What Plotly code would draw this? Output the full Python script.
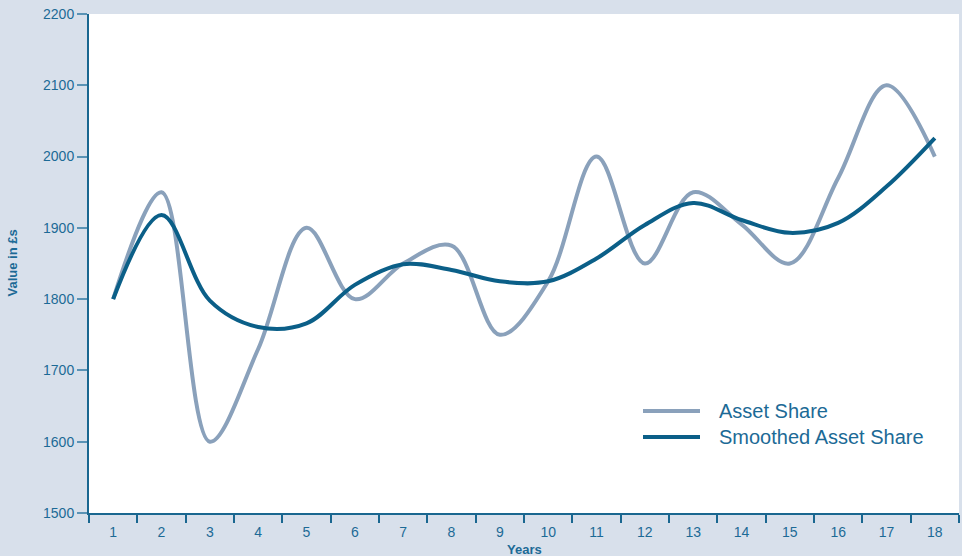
import plotly.graph_objects as go

years = [str(i) for i in range(1, 19)]
asset_share = [1800, 1950, 1600, 1730, 1900, 1800, 1850, 1875, 1750, 1825,
               2000, 1850, 1950, 1905, 1850, 1970, 2100, 2000]
smoothed_asset_share = [1800, 1918, 1798, 1761, 1766, 1820, 1849, 1841, 1825, 1825,
                        1857, 1904, 1935, 1911, 1893, 1907, 1958, 2026]
y_ticks = [1500, 1600, 1700, 1800, 1900, 2000, 2100, 2200]

GREY = "#8aa1bb"
DARK = "#0b5f88"
TXT = "#1c6a96"
BG = "#d8e0eb"
FONT = "Liberation Sans Narrow, Liberation Sans, Arial, sans-serif"

fig = go.Figure()
fig.add_trace(go.Scatter(x=years, y=asset_share, mode="lines", name="Asset Share",
                         line=dict(color=GREY, width=4, shape="spline", smoothing=1.0)))
fig.add_trace(go.Scatter(x=years, y=smoothed_asset_share, mode="lines", name="Smoothed Asset Share",
                         line=dict(color=DARK, width=4, shape="spline", smoothing=1.0)))

fig.update_layout(
    width=962, height=556,
    margin=dict(l=89, r=3, t=14, b=43),
    paper_bgcolor=BG, plot_bgcolor="white",
    showlegend=False,
    font=dict(family=FONT, color=TXT, size=13),
    xaxis=dict(type="category", range=[-0.5, 17.5], tickson="boundaries",
               ticks="outside", ticklen=8, tickwidth=1.5, tickcolor="#1a6790",
               showline=True, linecolor="#1a6790", linewidth=2,
               showgrid=False, zeroline=False, fixedrange=True,
               ticklabelstandoff=5,
               tickfont=dict(size=14, family=FONT, color=TXT)),
    yaxis=dict(range=[1500, 2200], tickvals=y_ticks,
               ticks="outside", ticklen=10, tickwidth=1.5, tickcolor="#5a93b5",
               showline=True, linecolor="#1a6790", linewidth=2,
               showgrid=False, zeroline=False,
               tickfont=dict(size=14, family=FONT, color=TXT)),
)

# axis titles
fig.add_annotation(text="<b>Years</b>", xref="paper", yref="paper", x=0.5, y=-0.073,
                   xanchor="center", yanchor="middle", showarrow=False,
                   font=dict(size=13, family=FONT, color=TXT))
fig.add_annotation(text="<b>Value in £s</b>", xref="paper", yref="paper", x=-0.0885, y=0.5,
                   xanchor="center", yanchor="middle", showarrow=False, textangle=-90,
                   font=dict(size=13, family=FONT, color=TXT))

# manual legend
leg = [("Asset Share", GREY, 411), ("Smoothed Asset Share", DARK, 437)]
for name, col, ypx in leg:
    yp = 1 - (ypx - 14) / (513 - 14)
    x0 = (643 - 89) / (959 - 89)
    x1 = (700 - 89) / (959 - 89)
    fig.add_shape(type="line", xref="paper", yref="paper", x0=x0, x1=x1, y0=yp, y1=yp,
                  line=dict(color=col, width=4))
    fig.add_annotation(text=name, xref="paper", yref="paper", x=(717 - 89) / (959 - 89), y=yp,
                       xanchor="left", yanchor="middle", showarrow=False,
                       font=dict(size=20, family="Liberation Sans, Arial, sans-serif", color=TXT))

fig.write_html("out.html")
